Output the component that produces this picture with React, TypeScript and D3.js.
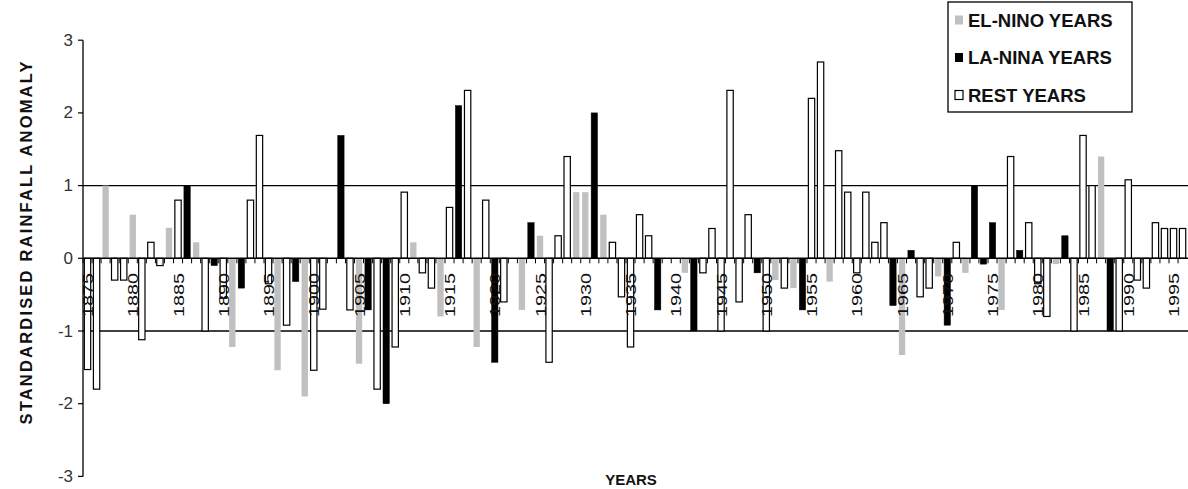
import React from "react";
import * as d3 from "d3";

const years: number[] = d3.range(1875, 1997);
// E = El-Nino, L = La-Nina, R = Rest
const types: string[] = [
  "R","R","E","R","R","E","R","R","R","E", // 1875-1884
  "R","L","E","R","L","R","E","L","R","R", // 1885-1894
  "R","E","R","L","E","R","R","E","L","R", // 1895-1904
  "E","L","R","L","R","R","E","R","R","E", // 1905-1914
  "R","L","R","E","R","L","R","R","E","L", // 1915-1924
  "E","R","R","R","E","E","L","E","R","R", // 1925-1934
  "R","R","R","L","R","E","E","L","R","R", // 1935-1944
  "R","R","R","R","L","R","E","R","E","L", // 1945-1954
  "R","R","E","R","R","R","R","R","R","L", // 1955-1964
  "E","L","R","R","E","L","R","E","L","L", // 1965-1974
  "L","E","R","L","R","R","R","E","L","R", // 1975-1984
  "R","R","E","L","R","R","R","R","R","R", // 1985-1994
  "R","R"                                  // 1995-1996
];
const anomalies: number[] = [
  -1.53,-1.80,1.00,-0.30,-0.30,0.60,-1.12,0.22,-0.10,0.42,
  0.80,1.00,0.22,-1.00,-0.10,-0.55,-1.22,-0.41,0.80,1.69,
  -0.35,-1.54,-0.92,-0.32,-1.90,-1.54,-0.70,0.00,1.69,-0.71,
  -1.45,-0.71,-1.80,-2.00,-1.22,0.91,0.22,-0.20,-0.41,-0.80,
  0.70,2.10,2.31,-1.22,0.80,-1.43,-0.60,0.00,-0.71,0.49,
  0.31,-1.43,0.31,1.40,0.91,0.91,2.00,0.60,0.22,-0.53,
  -1.22,0.60,0.31,-0.71,0.00,0.00,-0.20,-1.00,-0.20,0.41,
  -1.00,2.31,-0.60,0.60,-0.20,-1.00,-0.30,-0.41,-0.41,-0.71,
  2.20,2.70,-0.32,1.48,0.91,-0.20,0.91,0.22,0.49,-0.65,
  -1.33,0.11,-0.53,-0.41,-0.25,-0.92,0.22,-0.20,1.00,-0.08,
  0.49,-0.71,1.40,0.11,0.49,-0.35,-0.80,-0.08,0.31,-1.00,
  1.69,1.00,1.40,-1.00,-1.00,1.08,-0.30,-0.41,0.49,0.41,
  0.41,0.41
];
const yTicks: number[] = [-3, -2, -1, 0, 1, 2, 3];
const labelYears: number[] = years.filter((y) => (y - 1875) % 5 === 0);
const refLines: number[] = [1, -1];
const legendItems: { key: string; label: string }[] = [
  { key: "E", label: "EL-NINO YEARS" },
  { key: "L", label: "LA-NINA YEARS" },
  { key: "R", label: "REST YEARS" },
];

const W = 1188;
const H = 489;
const FONT = "Arial, 'Liberation Sans', Helvetica, sans-serif";

const fillFor = (t: string) => (t === "E" ? "#c0c0c0" : t === "L" ? "#000" : "#fff");

export default function App() {
  const left = 83;
  const step = 9.05;
  const x = d3
    .scaleBand<number>()
    .domain(years)
    .range([left, left + step * years.length])
    .paddingInner(0.3)
    .paddingOuter(0.15);
  const y = d3.scaleLinear().domain([-3, 3]).range([476.4, 40.2]);
  const y0 = y(0);
  const bw = x.bandwidth();
  const plotRight = W;

  return (
    <svg
      width={W}
      height={H}
      style={{ position: "absolute", left: 0, top: 0, background: "#fff" }}
      fontFamily={FONT}
    >
      <rect x={0} y={0} width={W} height={H} fill="#fff" />
      {refLines.map((v) => (
        <line key={v} x1={left} x2={plotRight} y1={y(v)} y2={y(v)} stroke="#000" strokeWidth={1.3} />
      ))}
      {years.map((yr, i) => {
        const v = anomalies[i];
        if (v === 0) return null;
        const t = types[i];
        const top = Math.min(y(v), y0);
        const h = Math.abs(y(v) - y0);
        return (
          <rect
            key={yr}
            x={x(yr)!}
            y={top}
            width={bw}
            height={h}
            fill={fillFor(t)}
            stroke={t === "E" ? "none" : "#000"}
            strokeWidth={t === "R" ? 1.2 : 0.5}
          />
        );
      })}
      <line x1={left} x2={plotRight} y1={y0} y2={y0} stroke="#000" strokeWidth={1.4} />
      {years.map((yr) => {
        const bx = x(yr)! - (x.step() - bw) / 2;
        return <line key={"t" + yr} x1={bx} x2={bx} y1={y0} y2={y0 + 5} stroke="#000" strokeWidth={1} />;
      })}
      {labelYears.map((yr) => {
        const cx = x(yr)! + bw / 2;
        const cy = 295;
        return (
          <text
            key={"l" + yr}
            transform={`translate(${cx},${cy}) rotate(-90)`}
            textAnchor="middle"
            dominantBaseline="central"
            fontSize={15}
            textLength={44}
            lengthAdjust="spacingAndGlyphs"
            fill="#111"
          >
            {yr}
          </text>
        );
      })}
      <line x1={left} x2={left} y1={y(3)} y2={y(-3)} stroke="#000" strokeWidth={1.3} />
      {yTicks.map((t) => (
        <g key={"y" + t}>
          <line x1={left - 5} x2={left} y1={y(t)} y2={y(t)} stroke="#000" strokeWidth={1.2} />
          <text
            x={left - 10}
            y={y(t)}
            textAnchor="end"
            dominantBaseline="central"
            fontSize={17}
            fill="#333"
          >
            {t}
          </text>
        </g>
      ))}
      <text
        transform={`translate(26,243) rotate(-90)`}
        textAnchor="middle"
        dominantBaseline="central"
        fontSize={16.5}
        fontWeight="bold"
        textLength={363}
        lengthAdjust="spacing"
        fill="#111"
      >
        STANDARDISED  RAINFALL  ANOMALY
      </text>
      <text x={631} y={479} textAnchor="middle" dominantBaseline="central" fontSize={15} fontWeight="bold" fill="#111">
        YEARS
      </text>
      <rect x={948} y={2} width={184} height={110} fill="#fff" stroke="#000" strokeWidth={1.3} />
      {legendItems.map((it, k) => {
        const cy = 20 + k * 37.5;
        return (
          <g key={it.key}>
            <rect
              x={955}
              y={cy - 4.5}
              width={8}
              height={9}
              fill={fillFor(it.key)}
              stroke={it.key === "R" ? "#000" : "none"}
              strokeWidth={1.2}
            />
            <text x={968} y={cy} dominantBaseline="central" fontSize={18.5} fontWeight="bold" fill="#111">
              {it.label}
            </text>
          </g>
        );
      })}
    </svg>
  );
}
